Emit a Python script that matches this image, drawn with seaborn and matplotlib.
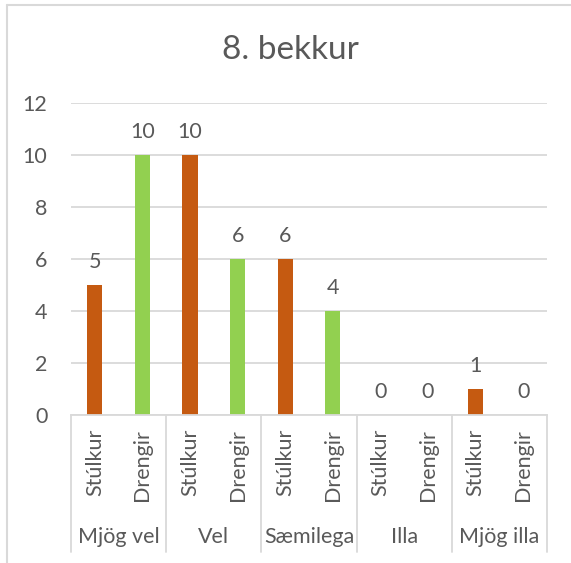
"""Grouped bar chart: 8. bekkur (Stúlkur / Drengir)."""

import matplotlib.pyplot as plt
import numpy as np
import pandas as pd
import seaborn as sns
from matplotlib.lines import Line2D

categories = ["Mjög vel", "Vel", "Sæmilega", "Illa", "Mjög illa"]
groups = ["Stúlkur", "Drengir"]
stulkur = [5, 10, 6, 0, 1]
drengir = [10, 6, 4, 0, 0]
y_ticks = [0, 2, 4, 6, 8, 10, 12]

ORANGE = "#C55A11"
GREEN = "#92D050"
TEXT = "#595959"
GRID = "#D9D9D9"
FS = 15.5

sns.set_theme(style="white")
plt.rcParams["font.family"] = ["Lato", "DejaVu Sans"]

# one x slot per (category, group)
rows = []
for cat, s, d in zip(categories, stulkur, drengir):
    rows.append({"slot": f"{cat}|{groups[0]}", "group": groups[0], "value": s})
    rows.append({"slot": f"{cat}|{groups[1]}", "group": groups[1], "value": d})
df = pd.DataFrame(rows)

fig = plt.figure(figsize=(5.71, 5.63), dpi=100)
ax = fig.add_axes([71 / 571, 1 - 415 / 563, 476 / 571, 312 / 563])

sns.barplot(
    data=df, x="slot", y="value", hue="group",
    palette={groups[0]: ORANGE, groups[1]: GREEN},
    dodge=False, width=0.32, ax=ax, legend=False, saturation=1,
    linewidth=0,
)

ax.set_ylim(0, 12)
ax.set_xlim(-0.5, len(df) - 0.5)
ax.set_yticks(y_ticks)
ax.yaxis.grid(True, color=GRID, linewidth=1.3)
ax.set_axisbelow(True)
for side in ["top", "right", "left"]:
    ax.spines[side].set_visible(False)
ax.spines["bottom"].set_color(GRID)
ax.spines["bottom"].set_linewidth(1.3)
ax.tick_params(axis="y", length=0, pad=17, labelsize=FS, labelcolor=TEXT)
ax.set_xticks([])
ax.set_xlabel("")
ax.set_ylabel("")

# value labels
for container in ax.containers:
    ax.bar_label(container, padding=9, fontsize=FS, color=TEXT)

# multi-level category axis
trans = ax.get_xaxis_transform()
for i, row in df.iterrows():
    ax.text(i, -0.045, row["group"], rotation=90, ha="center", va="top",
            fontsize=FS, color=TEXT, transform=trans)
for k, cat in enumerate(categories):
    ax.text(2 * k + 0.5, -0.39, cat, ha="center", va="center",
            fontsize=FS, color=TEXT, transform=trans)
for k in range(len(categories) + 1):
    ax.plot([2 * k - 0.5] * 2, [0, -0.44], color=GRID, linewidth=1.3,
            transform=trans, clip_on=False)

fig.suptitle("8. bekkur", x=290 / 571, y=1 - 50 / 563, va="center",
             fontsize=24, color=TEXT)

# chart frame (left and top edges visible)
fig.add_artist(Line2D([6.5 / 571, 6.5 / 571], [0, 1 - 5 / 563],
                      transform=fig.transFigure, color=GRID, linewidth=1.5))
fig.add_artist(Line2D([6.5 / 571, 1], [1 - 5 / 563, 1 - 5 / 563],
                      transform=fig.transFigure, color=GRID, linewidth=1.5))

fig.savefig("out.png", dpi=100)
plt.close(fig)
